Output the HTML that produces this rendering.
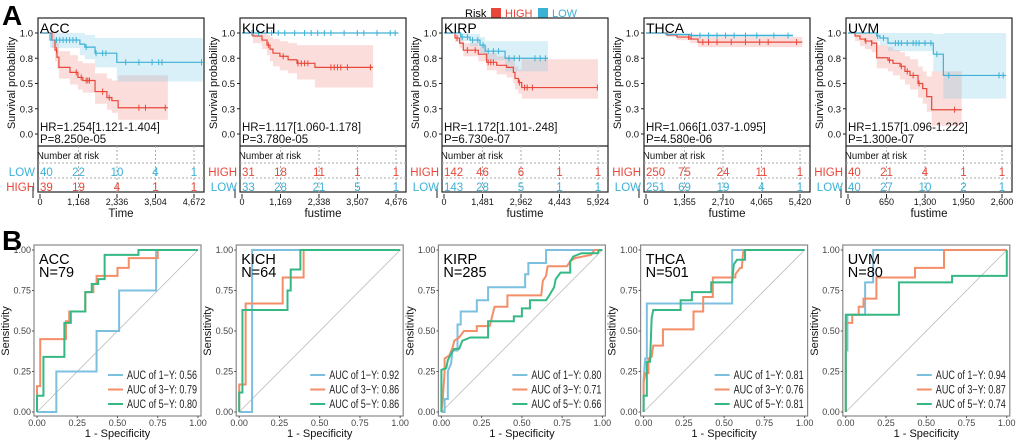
<!DOCTYPE html>
<html><head><meta charset="utf-8"><style>
body{margin:0;background:#fff;}
svg{display:block;font-family:"Liberation Sans",sans-serif;}
</style></head><body>
<svg id="fig" width="1020" height="442" viewBox="0 0 1020 442" xmlns="http://www.w3.org/2000/svg">
<text x="2" y="25" font-size="28" font-weight="bold">A</text>
<text x="2" y="250" font-size="28" font-weight="bold">B</text>
<g>
<text x="465" y="17" font-size="11">Risk</text>
<rect x="491" y="8" width="10" height="10" fill="#e8473a"/>
<text x="505" y="17" font-size="11" fill="#e8473a">HIGH</text>
<rect x="538" y="8" width="10" height="10" fill="#3cb1d6"/>
<text x="552" y="17" font-size="11" fill="#3cb1d6">LOW</text>
</g>
</svg>
<script>
// ---------- KM data ----------
const kmCancers = ["ACC","KICH","KIRP","THCA","UVM"];
const kmMax = [4672,4676,5924,5420,2600];
const kmTicks = [[0,1168,2336,3504,4672],[0,1169,2338,3507,4676],[0,1481,2962,4443,5924],[0,1355,2710,4065,5420],[0,650,1300,1950,2600]];
const kmXTitle = ["Time","fustime","fustime","fustime","fustime"];
const kmHR = ["HR=1.254[1.121-1.404]","HR=1.117[1.060-1.178]","HR=1.172[1.101-.248]","HR=1.066[1.037-1.095]","HR=1.157[1.096-1.222]"];
const kmP = ["P=8.250e-05","P=3.780e-05","P=6.730e-07","P=4.580e-06","P=1.300e-07"];
const kmRowOrder = [["LOW","HIGH"],["HIGH","LOW"],["HIGH","LOW"],["HIGH","LOW"],["HIGH","LOW"]];
const riskHigh = [[39,19,4,1,1],[31,18,11,1,1],[142,46,6,1,1],[250,75,24,11,1],[40,21,4,1,1]];
const riskLow = [[40,22,10,4,1],[33,28,21,5,1],[143,28,5,1,1],[251,69,19,4,1],[40,27,10,2,1]];
const highT = [[0,360,455,515,575,910,1150,1300,1670,2030,2180,2370],[0,334,607,760,850,940,1150,1400,1670,2215],[0,423,600,742,1320,1642,2027,2412,2668,2731,2860,2989],[0,740,1090,1550,1830],[0,118,203,287,400,484,675,760,878,962,1047,1182,1261,1329,1413]];
const highS = [[1,.93,.83,.76,.66,.61,.56,.53,.42,.36,.33,.26],[1,.97,.93,.88,.84,.8,.77,.735,.7,.66],[1,.95,.9,.83,.79,.71,.68,.66,.61,.55,.51,.46],[1,.98,.96,.94,.91],[1,.97,.94,.92,.9,.755,.73,.7,.67,.62,.58,.5,.45,.37,.24]];
const highLo = [[1,.85,.72,.64,.55,.49,.44,.41,.3,.24,.21,.14],[1,.9,.84,.78,.72,.67,.63,.6,.54,.46],[1,.91,.85,.77,.72,.63,.59,.56,.5,.44,.4,.35],[1,.96,.93,.9,.86],[1,.92,.87,.84,.81,.65,.62,.58,.54,.49,.44,.36,.3,.22,.08]];
const highHi = [[1,1,.95,.9,.82,.78,.72,.7,.6,.55,.53,.58],[1,1,1,.98,.96,.94,.92,.9,.88,.88],[1,.99,.95,.9,.87,.8,.77,.76,.72,.67,.64,.74],[1,1,.99,.98,.96],[1,1,1,1,.99,.88,.86,.83,.81,.77,.74,.67,.62,.57,.62]];
const highEnd = [3880,3980,5924,5500,1920];
const lowT = [[0,303,1210,1360,1670,2330],[0],[0,640,1000,1385,1580,2350],[0,700,1550],[0,484,540,675,1440,1610]];
const lowS = [[1,.93,.89,.86,.8,.71],[1],[1,.96,.93,.88,.82,.75],[1,.985,.975],[1,.97,.95,.9,.79,.58]];
const lowLo = [[1,.85,.78,.74,.66,.52],[1],[1,.92,.87,.8,.73,.62],[1,.97,.96],[1,.92,.88,.82,.62,.35]];
const lowHi = [[1,1,1,.98,.95,.95],[1],[1,1,.99,.96,.92,.92],[1,1,.99],[1,1,1,1,.99,1]];
const lowEnd = [4940,4750,4000,5170,2670];
const highCens = [[500,1100,1250,1400,1450,1500,1900,2100,3000,3200,3800],[800,1250,1700,1800,1900,2000,2700,2800,2900,3000,3200,3900],[500,900,1200,1700,1800,1900,2900,3100,3200,3400,5900],[1500,2000,2200,2500,3000,3500,4000,4300,5300],[300,400,700,900,1000,1100,1200,1800]];
const lowCens = [[500,600,700,800,900,1000,1100,1400,1700,1900,2000,2600,3000,3400,3600,3700,4900],[300,500,900,1100,1300,1600,1900,2100,2300,2500,2700,3100,3500,3700,4100,4500,4650],[700,900,1100,1300,1500,1700,1900,2100,2500,2700,2900,3500,3700,3900],[1600,1900,2200,2500,2800,3100,3500,3900,4500,5000],[500,600,800,850,900,1000,1100,1150,1200,1300,1400,1500,1700,2550,2620]];

// ---------- ROC data ----------
const rocN = [79,64,285,501,80];
const aucVals = [[0.56,0.79,0.80],[0.92,0.86,0.86],[0.80,0.71,0.66],[0.81,0.76,0.81],[0.94,0.87,0.74]];
const rocTickLabels = ["0.00","0.25","0.50","0.75","1.00"];
const roc1 = [
 [[0,0],[.12,0],[.12,.25],[.37,.25],[.37,.5],[.51,.5],[.51,.75],[.74,.75],[.74,1],[1,1]],
 [[0,0],[.08,0],[.08,1],[1,1]],
 [[0,0],[.02,0],[.02,.08],[.04,.08],[.04,.25],[.06,.3],[.07,.38],[.1,.38],[.1,.54],[.12,.54],[.12,.62],[.22,.62],[.22,.69],[.29,.69],[.29,.77],[.52,.77],[.52,.85],[.54,.85],[.54,.92],[.65,.92],[.65,1],[1,1]],
 [[0,0],[0,.2],[.01,.33],[.02,.33],[.02,.67],[.55,.67],[.55,1],[1,1]],
 [[0,0],[0,.38],[.01,.38],[.01,.6],[.12,.6],[.12,.8],[.17,.8],[.17,1],[1,1]]];
const roc3 = [
 [[0,0],[0,.16],[.02,.16],[.02,.45],[.18,.45],[.18,.56],[.2,.56],[.2,.62],[.3,.62],[.3,.74],[.35,.74],[.35,.79],[.37,.79],[.37,.84],[.5,.84],[.5,.89],[.57,.89],[.57,.95],[.75,.95],[.75,1],[1,1]],
 [[0,0],[0,.17],[.04,.17],[.04,.67],[.27,.67],[.27,.83],[.4,.83],[.4,1],[1,1]],
 [[0,0],[.01,.1],[.02,.25],[.02,.33],[.05,.35],[.07,.4],[.08,.44],[.11,.46],[.14,.5],[.22,.5],[.22,.53],[.3,.53],[.33,.65],[.41,.65],[.41,.72],[.62,.72],[.63,.81],[.65,.84],[.66,.9],[.78,.9],[.8,.93],[.83,.95],[.93,.97],[.95,1],[1,1]],
 [[0,0],[0,.18],[.01,.24],[.03,.24],[.03,.33],[.05,.34],[.06,.41],[.12,.41],[.12,.51],[.31,.51],[.31,.62],[.37,.62],[.37,.71],[.43,.71],[.43,.83],[.57,.83],[.57,.85],[.6,.89],[.61,.89],[.62,1],[1,1]],
 [[0,0],[0,.55],[.04,.55],[.04,.6],[.08,.6],[.08,.65],[.11,.65],[.11,.7],[.19,.7],[.19,.83],[.43,.83],[.43,.89],[.61,.89],[.61,1],[1,1]]];
const roc5 = [
 [[0,0],[0,.1],[.04,.1],[.04,.34],[.17,.34],[.17,.55],[.21,.55],[.21,.62],[.3,.62],[.3,.74],[.34,.74],[.34,.79],[.38,.79],[.38,.82],[.42,.82],[.42,.97],[.63,.97],[.63,1],[1,1]],
 [[0,0],[0,.12],[.02,.12],[.02,.63],[.3,.63],[.3,.75],[.32,.75],[.32,.88],[.38,.88],[.38,1],[1,1]],
 [[0,0],[0,.26],[.03,.27],[.04,.32],[.06,.36],[.08,.39],[.11,.39],[.13,.44],[.18,.46],[.29,.46],[.29,.56],[.45,.56],[.45,.59],[.5,.59],[.5,.64],[.55,.64],[.55,.69],[.65,.69],[.67,.72],[.7,.77],[.71,.82],[.74,.86],[.8,.86],[.8,.93],[.82,.96],[.87,.98],[.97,.98],[.98,1],[1,1]],
 [[0,0],[0,.1],[.02,.1],[.02,.31],[.04,.31],[.05,.58],[.06,.63],[.23,.63],[.23,.69],[.3,.69],[.3,.74],[.42,.74],[.42,.8],[.55,.8],[.56,.91],[.58,.94],[.63,.94],[.63,1],[1,1]],
 [[0,0],[0,.6],[.33,.6],[.33,.8],[.66,.8],[.66,.84],[1,.84],[1,1]]];

const svg = document.getElementById('fig');
const NS = "http://www.w3.org/2000/svg";
const RED="#e8473a", BLUE="#3cb1d6";
function mk(tag, attrs, parent, txt){
  const e=document.createElementNS(NS,tag);
  for(const k in attrs) e.setAttribute(k,attrs[k]);
  if(txt!==undefined) e.textContent=txt;
  (parent||svg).appendChild(e); return e;
}

kmCancers.forEach((name,i)=>{
  const L = 38+i*202, R = L+166, top=18, mid=146, bot=192;
  const g = mk('g',{});
  
  
  const x = t => L+2 + t/kmMax[i]*154;
  const y = s => 134 - s*101;
  function band(T,lo,hi,end,col,nm){
    let up='', dn='';
    for(let k=0;k<T.length;k++){
      const x0=x(T[k]), x1=x(k+1<T.length?T[k+1]:end);
      up += (k===0?'M':'L')+x0+','+y(hi[k])+' L'+x1+','+y(hi[k])+' ';
    }
    for(let k=T.length-1;k>=0;k--){
      const x0=x(T[k]), x1=x(k+1<T.length?T[k+1]:end);
      dn += 'L'+x1+','+y(lo[k])+' L'+x0+','+y(lo[k])+' ';
    }
    const p=mk('path',{d:up+dn+'Z',fill:col,'fill-opacity':0.25,stroke:'none'},g);
    
    
  }
  band(highT[i],highLo[i],highHi[i],highEnd[i],'#f07a70','ci-high');
  band(lowT[i],lowLo[i],lowHi[i],lowEnd[i],'#6cc3e3','ci-low');
  function curve(T,S,end,cens,col,nm){
    let d='M'+x(T[0])+','+y(S[0]);
    for(let k=1;k<T.length;k++) d+=' H'+x(T[k])+' V'+y(S[k]);
    d+=' H'+x(end);
    const p=mk('path',{d:d,fill:'none',stroke:col,'stroke-width':1.2},g);
    
    
    cens.forEach(c=>{
      let s=S[0]; for(let k=0;k<T.length;k++) if(T[k]<=c) s=S[k];
      const m=mk('line',{x1:x(c),x2:x(c),y1:y(s)-3,y2:y(s)+3,stroke:col,'stroke-width':1},g);
      
      
    });
  }
  curve(highT[i],highS[i],highEnd[i],highCens[i],RED,'curve-high');
  curve(lowT[i],lowS[i],lowEnd[i],lowCens[i],BLUE,'curve-low');
  const fr=mk('rect',{x:L,y:top,width:R-L,height:bot-top,fill:'none',stroke:'#222','stroke-width':1.2},g);
  
  
  mk('line',{x1:L,x2:R,y1:mid,y2:mid,stroke:'#222','stroke-width':1.2},g);
  [[1,'1.0'],[.75,'0.8'],[.5,'0.5'],[.25,'0.3'],[0,'0.0']].forEach(([v,l])=>{
    mk('line',{x1:L-3,x2:L,y1:y(v),y2:y(v),stroke:'#222'},g);
    const t=mk('text',{x:L-5,y:y(v)+3.5,'font-size':9.5,'text-anchor':'end',fill:'#111'},g,l);
    
    
  });
  const yt=mk('text',{x:0,y:0,'font-size':11,'text-anchor':'middle',transform:`translate(${L-23},83) rotate(-90)`,fill:'#111'},g,'Survival probability');
  
  
  const ti=mk('text',{x:L+2,y:33,'font-size':14,fill:'#000'},g,name);
  
  
  const hr=mk('text',{x:L+2,y:131,'font-size':11.5,fill:'#111'},g,kmHR[i]);
  
  
  const pv=mk('text',{x:L+2,y:143,'font-size':11.5,fill:'#111'},g,kmP[i]);
  
  
  const nr=mk('text',{x:L-1,y:159,'font-size':10.5,fill:'#111',textLength:62,lengthAdjust:'spacingAndGlyphs'},g,'Number at risk');
  
  
  [163,178].forEach(yy=>mk('line',{x1:L,x2:R,y1:yy,y2:yy,stroke:'#aaa','stroke-dasharray':'2,2'},g));
  kmTicks[i].forEach((tv,k)=>{
    const xx=x(tv);
    if(k>0) mk('line',{x1:xx,x2:xx,y1:mid,y2:bot,stroke:'#aaa','stroke-dasharray':'2,2'},g);
    mk('line',{x1:xx,x2:xx,y1:bot+2,y2:bot+6,stroke:'#222'},g);
    const tl=mk('text',{x:xx,y:bot+13,'font-size':9,'text-anchor':'middle',fill:'#111'},g,tv.toLocaleString('en-US'));
    
    
  });
  mk('line',{x1:L-5,x2:L-5,y1:bot-6,y2:bot+6,stroke:'#222'},g);
  const xt=mk('text',{x:(L+R)/2,y:217,'font-size':11.5,'text-anchor':'middle',fill:'#111'},g,kmXTitle[i]);
  
  
  kmRowOrder[i].forEach((grp,r)=>{
    const yy=[176,191][r], col=grp==='HIGH'?RED:BLUE, vals=grp==='HIGH'?riskHigh[i]:riskLow[i];
    const lb=mk('text',{x:L-3,y:yy,'font-size':11.5,'text-anchor':'end',fill:col},g,grp);
    
    
    vals.forEach((v,k)=>{
      const xx=x(kmTicks[i][k]);
      const tn=mk('text',{x:xx,y:yy,'font-size':11.5,'text-anchor':k===0?'start':'middle',fill:col},g,v);
      
      
    });
  });
});

const rocColors=["#7cc0e0","#f48e68","#36b884"];
kmCancers.forEach((name,i)=>{
  const X0 = 37+i*202.2, W = 161, Y1=250, Y0=412;
  const g=mk('g',{});
  
  
  const x=v=>X0+v*W, y=v=>Y0-v*(Y0-Y1);
  const fr=mk('rect',{x:X0-3,y:245,width:W+6,height:171,fill:'#fff',stroke:'#888','stroke-width':1.2},g);
  
  
  const dg=mk('line',{x1:x(0),y1:y(0),x2:x(1),y2:y(1),stroke:'#bbb','stroke-width':0.8},g);
  
  
  [roc1[i],roc3[i],roc5[i]].forEach((pts,k)=>{
    const p=mk('path',{d:pts.map((q,j)=>(j?'L':'M')+x(q[0])+','+y(q[1])).join(' '),fill:'none',stroke:rocColors[k],'stroke-width':2},g);
    
    
  });
  rocTickLabels.forEach((l,k)=>{
    const v=k/4;
    mk('line',{x1:X0-5,x2:X0-3,y1:y(v),y2:y(v),stroke:'#555'},g);
    const a=mk('text',{x:X0-6,y:y(v)+3,'font-size':9,'text-anchor':'end',fill:'#444'},g,l);
    
    
    mk('line',{x1:x(v),x2:x(v),y1:416,y2:418,stroke:'#555'},g);
    const b=mk('text',{x:x(v),y:426,'font-size':9,'text-anchor':'middle',fill:'#444'},g,l);
    
    
  });
  const xt=mk('text',{x:X0+W/2,y:437,'font-size':11,'text-anchor':'middle',fill:'#111'},g,'1 - Specificity');
  
  
  const yt=mk('text',{x:0,y:0,'font-size':11,'text-anchor':'middle',transform:`translate(${X0-28},331) rotate(-90)`,fill:'#111'},g,'Sensitivity');
  
  
  const t1=mk('text',{x:X0+2,y:264,'font-size':14.5,fill:'#000'},g,name);
  
  
  const t2=mk('text',{x:X0+2,y:277,'font-size':14.5,fill:'#000'},g,'N='+rocN[i]);
  
  
  ['1','3','5'].forEach((yr,k)=>{
    const yy=375+k*14.5;
    mk('line',{x1:X0+71,x2:X0+86,y1:yy,y2:yy,stroke:rocColors[k],'stroke-width':2},g);
    const lt=mk('text',{x:X0+90,y:yy+4,'font-size':11.5,fill:'#222',textLength:70,lengthAdjust:'spacingAndGlyphs'},g,'AUC of '+yr+'\u2212Y: '+aucVals[i][k].toFixed(2));
    
    
  });
});
</script>
</body></html>
